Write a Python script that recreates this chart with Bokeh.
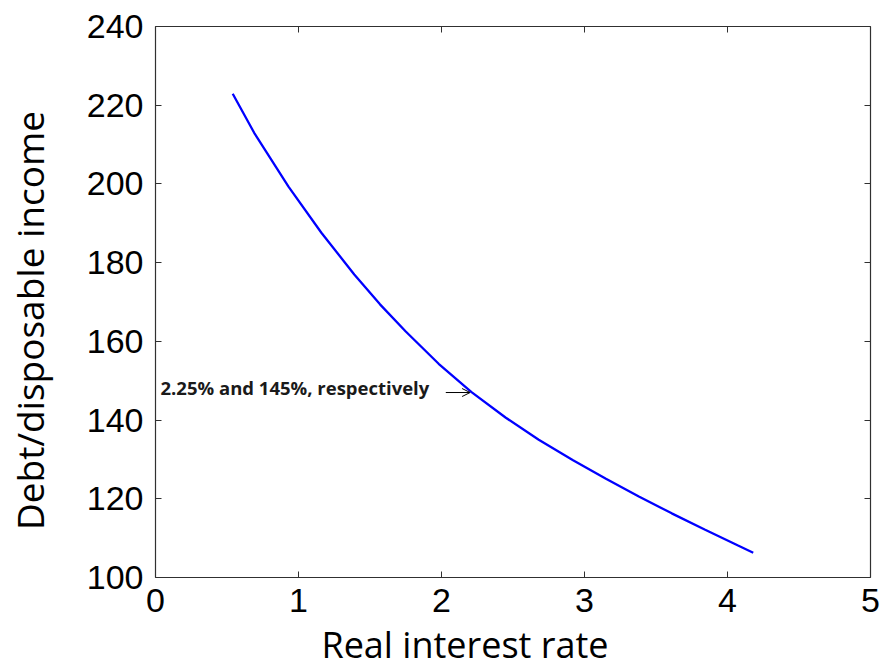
from bokeh.plotting import figure
from bokeh.models import LinearAxis, Range1d, FixedTicker, Arrow, OpenHead, Label
from bokeh.embed import file_html
from bokeh.resources import INLINE

# Data
rate = [0.54, 0.69, 0.93, 1.16, 1.39, 1.57, 1.75, 1.98, 2.21, 2.45, 2.68, 2.92,
        3.15, 3.38, 3.61, 3.84, 4.07, 4.18]
debt_ratio = [222.9, 213.0, 199.3, 187.6, 177.0, 169.4, 162.5, 154.3, 147.1, 140.6,
              135.0, 129.8, 125.1, 120.6, 116.3, 112.2, 108.2, 106.3]
x_ticks = [0, 1, 2, 3, 4, 5]
y_ticks = [100, 120, 140, 160, 180, 200, 220, 240]
x_title = "Real interest rate"
y_title = "Debt/disposable income"
note_text = "2.25% and 145%, respectively"

# annotation anchors (data units)
note_xy = (0.035, 148.2)
arrow_from = (2.03, 147.0)
arrow_to = (2.20, 147.0)

AX = "#303030"

p = figure(width=880, height=671, output_backend="svg", toolbar_location=None,
           x_range=Range1d(0, 5), y_range=Range1d(100, 240),
           min_border_left=155, min_border_right=10, min_border_top=26,
           min_border_bottom=94)
p.outline_line_color = None
p.xgrid.visible = False
p.ygrid.visible = False
p.background_fill_color = "white"
p.border_fill_color = "white"

p.line(rate, debt_ratio, line_color="#0000FF", line_width=2.3)

def style(ax, ticks, show_labels):
    ax.ticker = FixedTicker(ticks=ticks)
    ax.minor_tick_line_color = None
    ax.major_tick_in = 6
    ax.major_tick_out = 0
    ax.axis_line_color = AX
    ax.major_tick_line_color = AX
    ax.axis_line_width = 1.2
    if show_labels:
        ax.major_label_text_font = "Liberation Sans"
        ax.major_label_text_font_size = "34px"
        ax.major_label_text_color = "black"
    else:
        ax.major_label_text_font_size = "1px"
        ax.major_label_text_alpha = 0
        ax.major_label_standoff = 0

xa = p.xaxis[0]
ya = p.yaxis[0]
style(xa, x_ticks, True)
style(ya, y_ticks, True)
xa.major_label_standoff = 11
ya.major_label_standoff = 12

# trailing em/en spaces shift the visible title off the frame centre,
# as in the reference (x title sits left of centre, y title below centre)
xa.axis_label = x_title + "\u2003\u2003\u2002\u2006"
ya.axis_label = y_title + "\u2003"
for ax, size in ((xa, "36px"), (ya, "37px")):
    ax.axis_label_text_font = "Open Sans"
    ax.axis_label_text_font_size = size
    ax.axis_label_text_font_style = "normal"
    ax.axis_label_text_color = "black"
xa.axis_label_standoff = 5
ya.axis_label_standoff = 29

top = LinearAxis()
right = LinearAxis()
style(top, x_ticks, False)
style(right, y_ticks, False)
p.add_layout(top, "above")
p.add_layout(right, "right")

p.add_layout(Label(x=note_xy[0], y=note_xy[1], text=note_text,
                   text_font="Open Sans", text_font_style="bold",
                   text_font_size="18.5px", text_color="#1a1a1a",
                   text_baseline="alphabetic"))
p.add_layout(Arrow(x_start=arrow_from[0], y_start=arrow_from[1],
                   x_end=arrow_to[0], y_end=arrow_to[1],
                   line_color="black", line_width=1,
                   end=OpenHead(size=8, line_color="black", line_width=1)))

open("out.html", "w").write(file_html(p, INLINE))
